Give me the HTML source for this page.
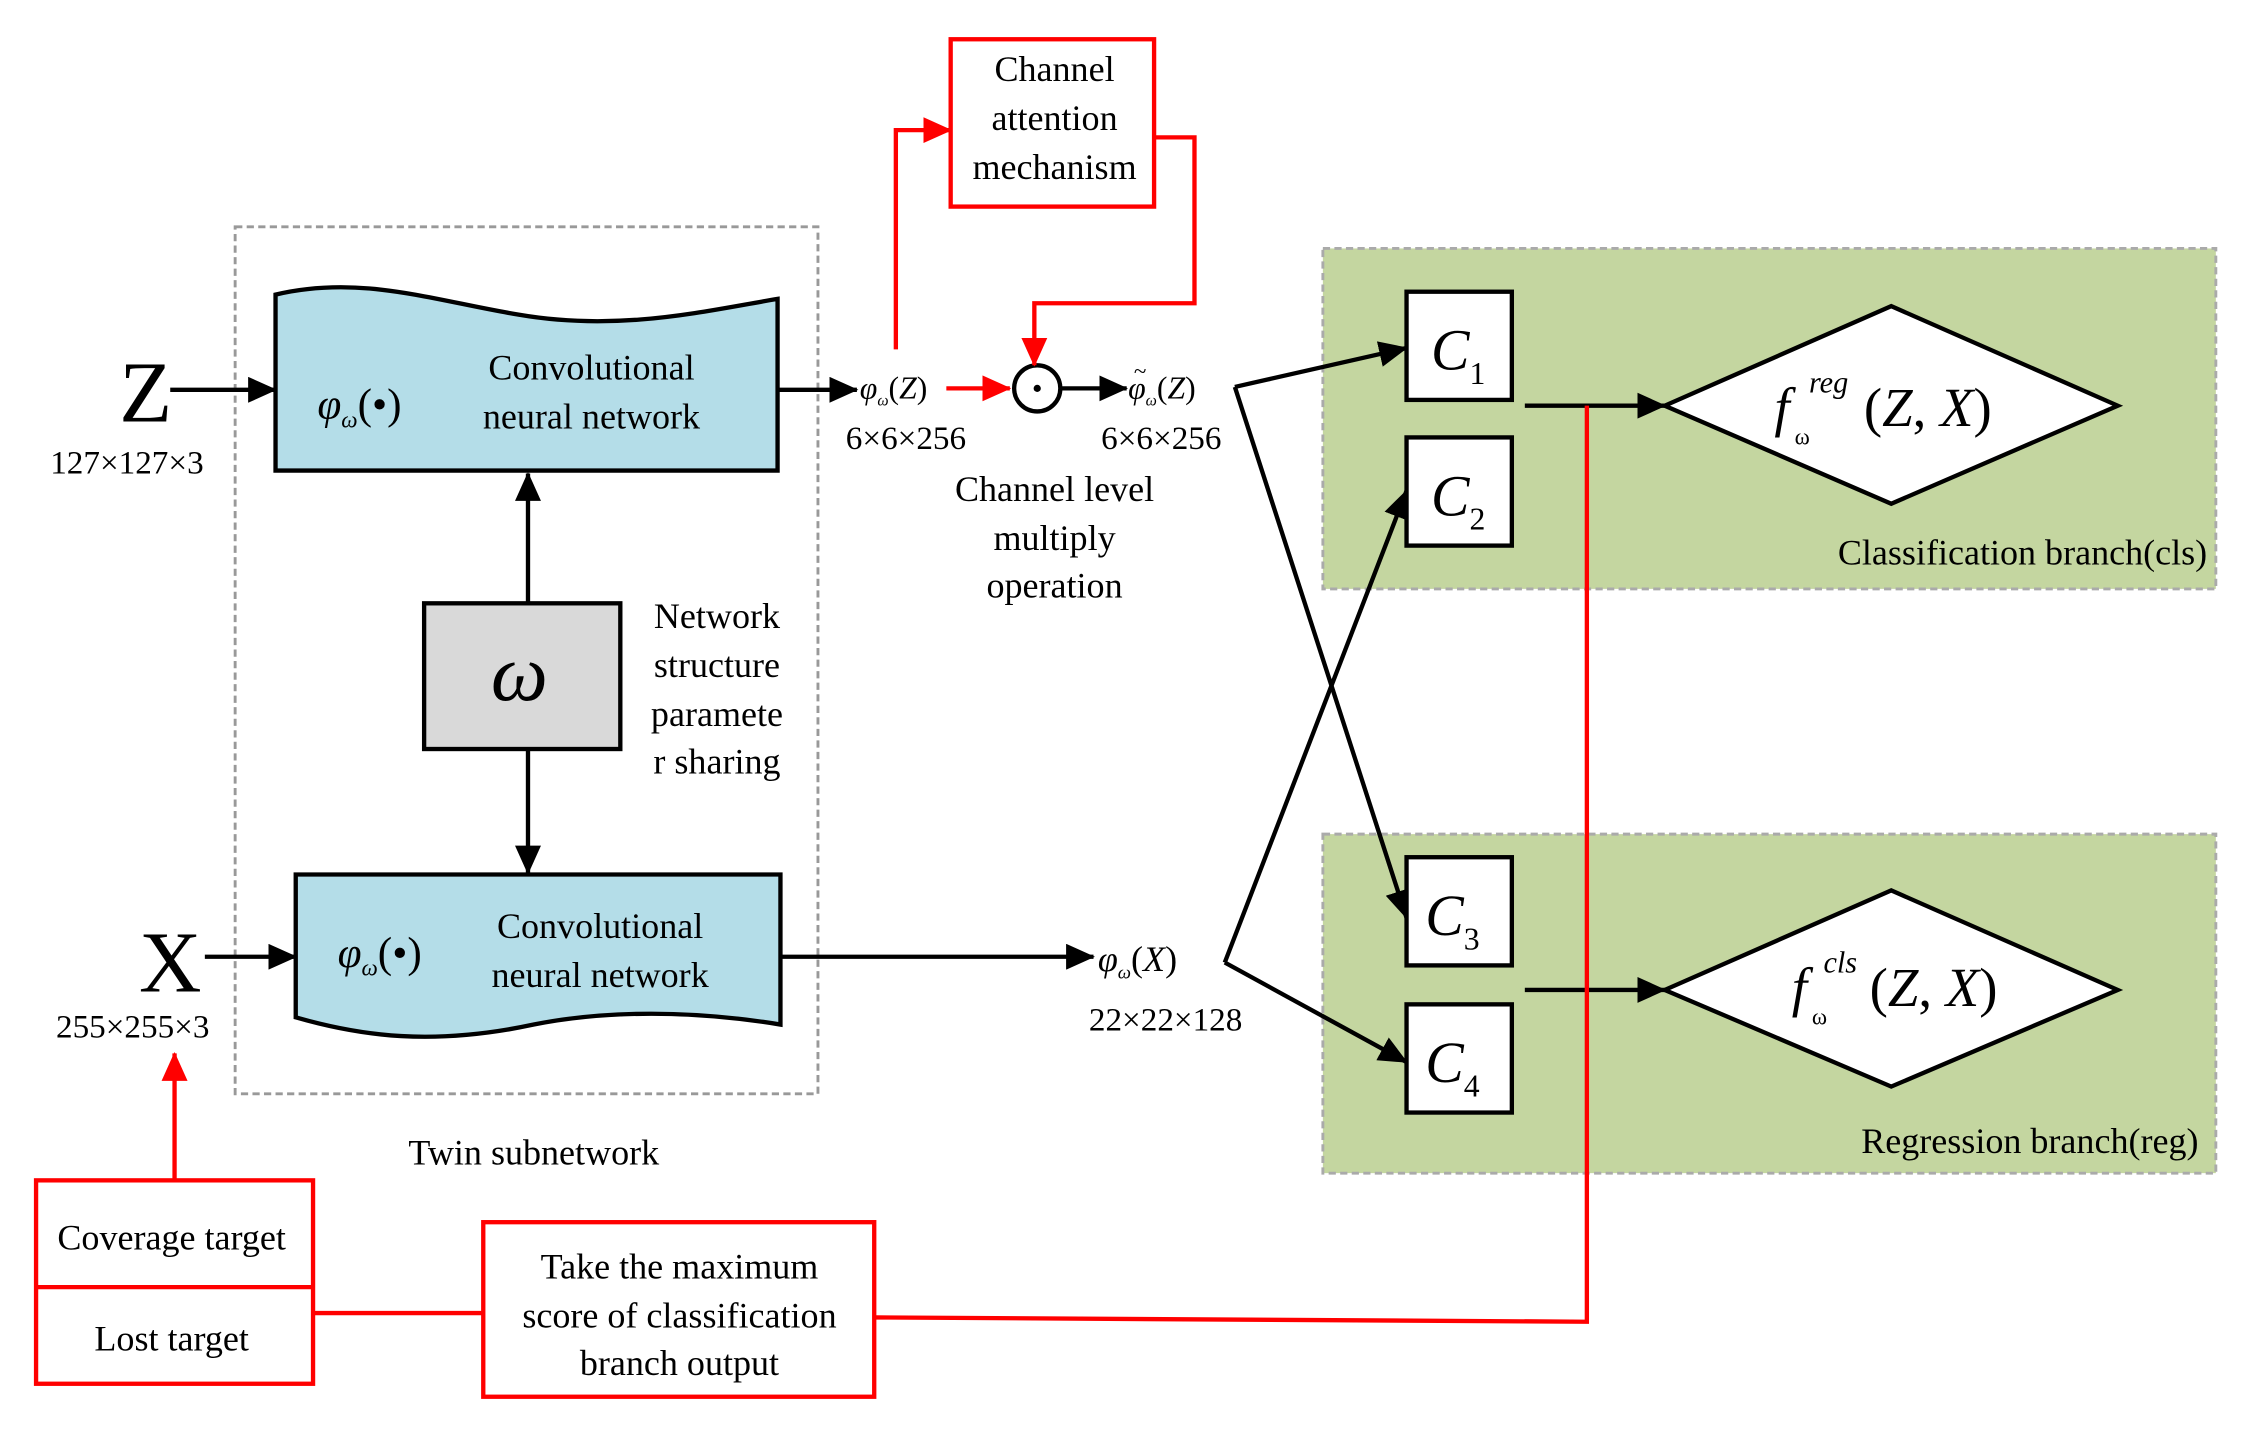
<!DOCTYPE html>
<html><head><meta charset="utf-8"><style>html,body{margin:0;padding:0;background:#fff}svg{display:block}svg text{font-family:"Liberation Serif","DejaVu Serif",serif}</style></head>
<body>
<svg width="2262" height="1436" viewBox="0 0 1568 995" xmlns="http://www.w3.org/2000/svg" style="font-family:'Liberation Serif',serif">
<defs>
<marker id="ab" markerWidth="20" markerHeight="18" refX="19" refY="9" orient="auto" markerUnits="userSpaceOnUse" viewBox="0 0 20 18"><path d="M0,0 L20,9 L0,18 Z" fill="#000"/></marker>
<marker id="ar" markerWidth="20" markerHeight="18" refX="19" refY="9" orient="auto" markerUnits="userSpaceOnUse" viewBox="0 0 20 18"><path d="M0,0 L20,9 L0,18 Z" fill="#f00"/></marker>
</defs>
<rect x="917" y="172" width="619" height="236" fill="#c4d6a0" stroke="#aaa" stroke-width="2" stroke-dasharray="5,3"/>
<rect x="917" y="578" width="619" height="235" fill="#c4d6a0" stroke="#aaa" stroke-width="2" stroke-dasharray="5,3"/>
<rect x="163" y="157" width="404" height="601" fill="none" stroke="#999" stroke-width="2" stroke-dasharray="5,3"/>
<path d="M191,204 C250,190 300,208 360,218 C430,230 490,215 539,207 L539,326 L191,326 Z" fill="#b4dde8" stroke="#000" stroke-width="3"/>
<text x="220" y="290" font-size="30" font-style="italic">φ<tspan font-size="16" dy="6">ω</tspan><tspan dy="-6" font-style="normal">(•)</tspan></text>
<text x="410" y="263" font-size="25" text-anchor="middle">Convolutional</text>
<text x="410" y="297" font-size="25" text-anchor="middle">neural network</text>
<path d="M205,606 L541,606 L541,710 C480,700 420,700 370,710 C300,725 250,718 205,705 Z" fill="#b4dde8" stroke="#000" stroke-width="3"/>
<text x="234" y="670" font-size="30" font-style="italic">φ<tspan font-size="16" dy="6">ω</tspan><tspan dy="-6" font-style="normal">(•)</tspan></text>
<text x="416" y="650" font-size="25" text-anchor="middle">Convolutional</text>
<text x="416" y="684" font-size="25" text-anchor="middle">neural network</text>
<rect x="294" y="418" width="136" height="101" fill="#d9d9d9" stroke="#000" stroke-width="3"/>
<text x="360" y="485" font-size="56" font-style="italic" text-anchor="middle">ω</text>
<line x1="366" y1="418" x2="366" y2="328" stroke="#000" stroke-width="3" marker-end="url(#ab)"/>
<line x1="366" y1="519" x2="366" y2="605" stroke="#000" stroke-width="3" marker-end="url(#ab)"/>
<text font-size="25" text-anchor="middle"><tspan x="497" y="435">Network</tspan><tspan x="497" y="469">structure</tspan><tspan x="497" y="503">paramete</tspan><tspan x="497" y="536">r sharing</tspan></text>
<text x="370" y="807" font-size="25" text-anchor="middle">Twin subnetwork</text>
<text x="101" y="292" font-size="60" text-anchor="middle">Z</text>
<text x="88" y="328" font-size="23" text-anchor="middle">127×127×3</text>
<line x1="118" y1="270" x2="191" y2="270" stroke="#000" stroke-width="3" marker-end="url(#ab)"/>
<text x="118" y="687" font-size="60" text-anchor="middle">X</text>
<text x="92" y="719" font-size="23" text-anchor="middle">255×255×3</text>
<line x1="142" y1="663" x2="205" y2="663" stroke="#000" stroke-width="3" marker-end="url(#ab)"/>
<line x1="539" y1="270" x2="594" y2="270" stroke="#000" stroke-width="3" marker-end="url(#ab)"/>
<text x="596" y="276" font-size="22" font-style="italic">φ<tspan font-size="11" dy="5">ω</tspan><tspan dy="-5" font-style="normal">(</tspan>Z<tspan font-style="normal">)</tspan></text>
<text x="628" y="311" font-size="23" text-anchor="middle">6×6×256</text>
<line x1="656" y1="269" x2="700" y2="269" stroke="#f00" stroke-width="3" marker-end="url(#ar)"/>
<circle cx="719" cy="269" r="16" fill="#fff" stroke="#000" stroke-width="3"/>
<circle cx="719" cy="269" r="2.5" fill="#000"/>
<line x1="735" y1="269" x2="781" y2="269" stroke="#000" stroke-width="3" marker-end="url(#ab)"/>
<text x="782" y="276" font-size="22" font-style="italic">φ<tspan font-size="11" dy="5">ω</tspan><tspan dy="-5" font-style="normal">(</tspan>Z<tspan font-style="normal">)</tspan></text>
<text x="786" y="262" font-size="16">~</text>
<text x="805" y="311" font-size="23" text-anchor="middle">6×6×256</text>
<text font-size="25" text-anchor="middle"><tspan x="731" y="347">Channel level</tspan><tspan x="731" y="381">multiply</tspan><tspan x="731" y="414">operation</tspan></text>
<rect x="659" y="27" width="141" height="116" fill="#fff" stroke="#f00" stroke-width="3"/>
<text font-size="25" text-anchor="middle"><tspan x="731" y="56">Channel</tspan><tspan x="731" y="90">attention</tspan><tspan x="731" y="124">mechanism</tspan></text>
<polyline points="621,242 621,90 659,90" fill="none" stroke="#f00" stroke-width="3" marker-end="url(#ar)"/>
<polyline points="800,95 828,95 828,210 717,210 717,253" fill="none" stroke="#f00" stroke-width="3" marker-end="url(#ar)"/>
<line x1="541" y1="663" x2="758" y2="663" stroke="#000" stroke-width="3" marker-end="url(#ab)"/>
<text x="761" y="673" font-size="25" font-style="italic">φ<tspan font-size="13" dy="5">ω</tspan><tspan dy="-5" font-style="normal">(</tspan>X<tspan font-style="normal">)</tspan></text>
<text x="808" y="714" font-size="23" text-anchor="middle">22×22×128</text>
<line x1="856" y1="268" x2="975" y2="241" stroke="#000" stroke-width="3" marker-end="url(#ab)"/>
<line x1="856" y1="268" x2="975" y2="636" stroke="#000" stroke-width="3" marker-end="url(#ab)"/>
<line x1="849" y1="667" x2="975" y2="340" stroke="#000" stroke-width="3" marker-end="url(#ab)"/>
<line x1="849" y1="667" x2="975" y2="736" stroke="#000" stroke-width="3" marker-end="url(#ab)"/>
<g fill="#fff" stroke="#000" stroke-width="3">
<rect x="975" y="202" width="73" height="75"/>
<rect x="975" y="303" width="73" height="75"/>
<rect x="975" y="594" width="73" height="75"/>
<rect x="975" y="696" width="73" height="75"/>
</g>
<g font-size="40" font-style="italic">
<text x="992" y="256">C<tspan font-size="22" font-style="normal" dy="10">1</tspan></text>
<text x="992" y="357">C<tspan font-size="22" font-style="normal" dy="10">2</tspan></text>
<text x="988" y="648">C<tspan font-size="22" font-style="normal" dy="10">3</tspan></text>
<text x="988" y="750">C<tspan font-size="22" font-style="normal" dy="10">4</tspan></text>
</g>
<line x1="1057" y1="281" x2="1154" y2="281" stroke="#000" stroke-width="3" marker-end="url(#ab)"/>
<polygon points="1154,281 1311,212 1468,281 1311,349" fill="#fff" stroke="#000" stroke-width="3"/>
<text x="1230" y="295" font-size="38" font-style="italic">f</text>
<text x="1254" y="272" font-size="21" font-style="italic">reg</text>
<text x="1244" y="308" font-size="16">ω</text>
<text x="1292" y="295" font-size="38"><tspan>(</tspan><tspan font-style="italic">Z</tspan>, <tspan font-style="italic">X</tspan>)</text>
<line x1="1057" y1="686" x2="1154" y2="686" stroke="#000" stroke-width="3" marker-end="url(#ab)"/>
<polygon points="1154,686 1311,617 1468,686 1311,753" fill="#fff" stroke="#000" stroke-width="3"/>
<text x="1242" y="697" font-size="38" font-style="italic">f</text>
<text x="1264" y="674" font-size="21" font-style="italic">cls</text>
<text x="1256" y="710" font-size="16">ω</text>
<text x="1296" y="697" font-size="38"><tspan>(</tspan><tspan font-style="italic">Z</tspan>, <tspan font-style="italic">X</tspan>)</text>
<text x="1530" y="391" font-size="25" text-anchor="end">Classification branch(cls)</text>
<text x="1524" y="799" font-size="25" text-anchor="end">Regression branch(reg)</text>
<polyline points="1100,281 1100,916 607,913" fill="none" stroke="#f00" stroke-width="3"/>
<rect x="335" y="847" width="271" height="121" fill="#fff" stroke="#f00" stroke-width="3"/>
<text font-size="25" text-anchor="middle"><tspan x="471" y="886">Take the maximum</tspan><tspan x="471" y="920">score of classification</tspan><tspan x="471" y="953">branch output</tspan></text>
<line x1="217" y1="910" x2="335" y2="910" stroke="#f00" stroke-width="3"/>
<rect x="25" y="818" width="192" height="141" fill="#fff" stroke="#f00" stroke-width="3"/>
<line x1="25" y1="892" x2="217" y2="892" stroke="#f00" stroke-width="3"/>
<text x="119" y="866" font-size="25" text-anchor="middle">Coverage target</text>
<text x="119" y="936" font-size="25" text-anchor="middle">Lost target</text>
<line x1="121" y1="818" x2="121" y2="730" stroke="#f00" stroke-width="3" marker-end="url(#ar)"/>
</svg>
</body></html>
